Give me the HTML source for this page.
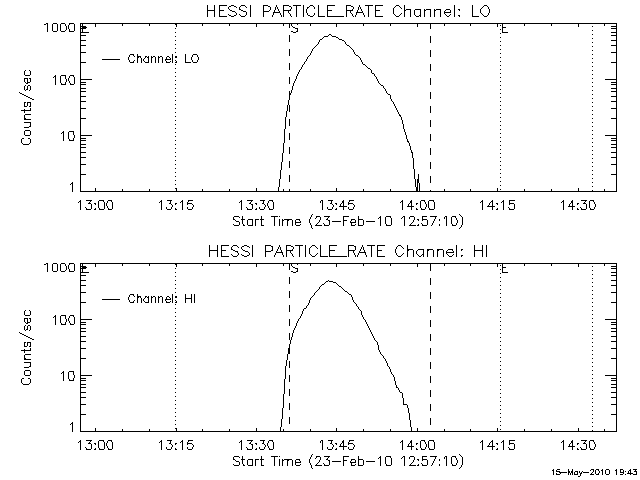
<!DOCTYPE html>
<html><head><meta charset="utf-8"><title>HESSI PARTICLE_RATE</title>
<style>
html,body{margin:0;padding:0;background:#fff;width:640px;height:480px;overflow:hidden}
svg{display:block}
.sr{position:absolute;left:-9999px;top:0;font-family:"Liberation Sans",sans-serif;font-size:1px}
</style></head><body>
<svg width="640" height="480" viewBox="0 0 640 480" shape-rendering="crispEdges">
<rect width="640" height="480" fill="#fff"/>
<g fill="#000">
<path id="frame0" d="M80 23h537v1h-537zM80 24h1v2h-1zM82 24h1v2h-1zM122 24h1v2h-1zM149 24h1v2h-1zM202 24h1v2h-1zM229 24h1v2h-1zM283 24h1v2h-1zM310 24h1v2h-1zM363 24h1v2h-1zM390 24h1v2h-1zM444 24h1v2h-1zM470 24h1v2h-1zM524 24h1v2h-1zM551 24h1v2h-1zM604 24h1v2h-1zM616 24h1v2h-1zM80 26h6v1h-6zM95 24h1v3h-1zM176 24h1v3h-1zM256 24h1v3h-1zM336 24h1v3h-1zM417 24h1v3h-1zM497 24h1v3h-1zM578 24h1v3h-1zM611 26h6v1h-6zM80 27h1v1h-1zM82 27h5v1h-5zM616 27h1v1h-1zM80 28h6v1h-6zM611 28h6v1h-6zM80 29h1v3h-1zM82 29h1v3h-1zM616 29h1v3h-1zM80 32h9v1h-9zM611 32h6v1h-6zM80 33h1v2h-1zM616 33h1v2h-1zM80 35h6v1h-6zM611 35h6v1h-6zM80 36h1v4h-1zM616 36h1v4h-1zM80 40h6v1h-6zM611 40h6v1h-6zM80 41h1v4h-1zM616 41h1v4h-1zM80 45h6v1h-6zM611 45h6v1h-6zM80 46h1v6h-1zM616 46h1v6h-1zM80 52h6v1h-6zM611 52h6v1h-6zM80 53h1v9h-1zM616 53h1v9h-1zM80 62h6v1h-6zM611 62h6v1h-6zM80 63h1v16h-1zM616 63h1v16h-1zM80 79h12v1h-12zM605 79h12v1h-12zM80 80h1v2h-1zM616 80h1v2h-1zM80 82h6v1h-6zM611 82h6v1h-6zM80 83h1v1h-1zM616 83h1v1h-1zM80 84h6v1h-6zM611 84h6v1h-6zM80 85h1v3h-1zM616 85h1v3h-1zM80 88h6v1h-6zM611 88h6v1h-6zM80 89h1v2h-1zM616 89h1v2h-1zM80 91h6v1h-6zM611 91h6v1h-6zM80 92h1v4h-1zM616 92h1v4h-1zM80 96h6v1h-6zM611 96h6v1h-6zM80 97h1v4h-1zM616 97h1v4h-1zM80 101h6v1h-6zM611 101h6v1h-6zM80 102h1v6h-1zM616 102h1v6h-1zM80 108h6v1h-6zM611 108h6v1h-6zM80 109h1v9h-1zM616 109h1v9h-1zM80 118h6v1h-6zM611 118h6v1h-6zM80 119h1v16h-1zM616 119h1v16h-1zM80 135h12v1h-12zM605 135h12v1h-12zM80 136h1v2h-1zM616 136h1v2h-1zM80 138h6v1h-6zM611 138h6v1h-6zM80 139h1v1h-1zM616 139h1v1h-1zM80 140h6v1h-6zM611 140h6v1h-6zM80 141h1v3h-1zM616 141h1v3h-1zM80 144h6v1h-6zM611 144h6v1h-6zM80 145h1v2h-1zM616 145h1v2h-1zM80 147h6v1h-6zM611 147h6v1h-6zM80 148h1v4h-1zM616 148h1v4h-1zM80 152h6v1h-6zM611 152h6v1h-6zM80 153h1v4h-1zM616 153h1v4h-1zM80 157h6v1h-6zM611 157h6v1h-6zM80 158h1v6h-1zM616 158h1v6h-1zM80 164h6v1h-6zM611 164h6v1h-6zM80 165h1v9h-1zM616 165h1v9h-1zM80 174h6v1h-6zM611 174h6v1h-6zM80 175h1v16h-1zM95 188h1v3h-1zM122 189h1v2h-1zM149 189h1v2h-1zM176 188h1v3h-1zM202 189h1v2h-1zM229 189h1v2h-1zM256 188h1v3h-1zM283 189h1v2h-1zM310 189h1v2h-1zM336 188h1v3h-1zM363 189h1v2h-1zM390 189h1v2h-1zM417 188h1v3h-1zM444 189h1v2h-1zM470 189h1v2h-1zM497 188h1v3h-1zM524 189h1v2h-1zM551 189h1v2h-1zM578 188h1v3h-1zM604 189h1v2h-1zM616 175h1v16h-1zM80 191h537v1h-537z"/>
<path id="vlines0" d="M175 24h1v1h-1zM500 25h1v1h-1zM592 26h1v1h-1zM289 23h1v5h-1zM175 28h1v1h-1zM430 23h1v6h-1zM500 29h1v1h-1zM592 30h1v1h-1zM175 32h1v1h-1zM500 33h1v1h-1zM592 34h1v1h-1zM175 36h1v1h-1zM500 37h1v1h-1zM592 38h1v1h-1zM175 40h1v1h-1zM289 35h1v7h-1zM500 41h1v1h-1zM430 36h1v7h-1zM592 42h1v1h-1zM175 44h1v1h-1zM500 45h1v1h-1zM592 46h1v1h-1zM175 48h1v1h-1zM500 49h1v1h-1zM592 50h1v1h-1zM175 52h1v1h-1zM500 53h1v1h-1zM592 54h1v1h-1zM289 49h1v7h-1zM175 56h1v1h-1zM430 50h1v7h-1zM500 57h1v1h-1zM592 58h1v1h-1zM175 60h1v1h-1zM500 61h1v1h-1zM592 62h1v1h-1zM175 64h1v1h-1zM500 65h1v1h-1zM592 66h1v1h-1zM175 68h1v1h-1zM289 63h1v7h-1zM500 69h1v1h-1zM430 64h1v7h-1zM592 70h1v1h-1zM175 72h1v1h-1zM500 73h1v1h-1zM592 74h1v1h-1zM175 76h1v1h-1zM500 77h1v1h-1zM592 78h1v1h-1zM175 80h1v1h-1zM500 81h1v1h-1zM592 82h1v1h-1zM289 77h1v7h-1zM175 84h1v1h-1zM430 78h1v7h-1zM500 85h1v1h-1zM592 86h1v1h-1zM175 88h1v1h-1zM500 89h1v1h-1zM592 90h1v1h-1zM175 92h1v1h-1zM500 93h1v1h-1zM592 94h1v1h-1zM175 96h1v1h-1zM289 91h1v7h-1zM500 97h1v1h-1zM430 92h1v7h-1zM592 98h1v1h-1zM175 100h1v1h-1zM500 101h1v1h-1zM592 102h1v1h-1zM175 104h1v1h-1zM500 105h1v1h-1zM592 106h1v1h-1zM175 108h1v1h-1zM500 109h1v1h-1zM592 110h1v1h-1zM289 105h1v7h-1zM175 112h1v1h-1zM430 106h1v7h-1zM500 113h1v1h-1zM592 114h1v1h-1zM175 116h1v1h-1zM500 117h1v1h-1zM592 118h1v1h-1zM175 120h1v1h-1zM500 121h1v1h-1zM592 122h1v1h-1zM175 124h1v1h-1zM289 119h1v7h-1zM500 125h1v1h-1zM430 120h1v7h-1zM592 126h1v1h-1zM175 128h1v1h-1zM500 129h1v1h-1zM592 130h1v1h-1zM175 132h1v1h-1zM500 133h1v1h-1zM592 134h1v1h-1zM175 136h1v1h-1zM500 137h1v1h-1zM592 138h1v1h-1zM289 133h1v7h-1zM175 140h1v1h-1zM430 134h1v7h-1zM500 141h1v1h-1zM592 142h1v1h-1zM175 144h1v1h-1zM500 145h1v1h-1zM592 146h1v1h-1zM175 148h1v1h-1zM500 149h1v1h-1zM592 150h1v1h-1zM175 152h1v1h-1zM289 147h1v7h-1zM500 153h1v1h-1zM430 148h1v7h-1zM592 154h1v1h-1zM175 156h1v1h-1zM500 157h1v1h-1zM592 158h1v1h-1zM175 160h1v1h-1zM500 161h1v1h-1zM592 162h1v1h-1zM175 164h1v1h-1zM500 165h1v1h-1zM592 166h1v1h-1zM289 161h1v7h-1zM175 168h1v1h-1zM430 162h1v7h-1zM500 169h1v1h-1zM592 170h1v1h-1zM175 172h1v1h-1zM500 173h1v1h-1zM592 174h1v1h-1zM175 176h1v1h-1zM500 177h1v1h-1zM592 178h1v1h-1zM175 180h1v1h-1zM289 175h1v7h-1zM500 181h1v1h-1zM430 176h1v7h-1zM592 182h1v1h-1zM175 184h1v1h-1zM500 185h1v1h-1zM592 186h1v1h-1zM175 188h1v1h-1zM500 189h1v1h-1zM592 190h1v1h-1zM289 189h1v3h-1zM430 190h1v2h-1z"/>
<path id="se0" aria-label="S E" d="M292 23h5v1h-5zM502 23h6v1h-6zM297 24h1v1h-1zM291 24h1v2h-1zM292 26h1v1h-1zM502 24h1v3h-1zM293 27h2v1h-2zM502 27h4v1h-4zM295 28h3v1h-3zM297 29h1v2h-1zM291 31h2v1h-2zM296 31h2v1h-2zM502 28h1v4h-1zM293 32h3v1h-3zM502 32h6v1h-6z"/>
<path id="curve0" d="M329 34h2v1h-2zM328 35h1v1h-1zM331 35h1v1h-1zM324 36h4v1h-4zM332 36h4v1h-4zM323 37h1v1h-1zM336 37h2v1h-2zM322 38h1v1h-1zM338 38h1v1h-1zM320 39h2v1h-2zM339 39h3v1h-3zM342 40h2v1h-2zM319 40h1v2h-1zM344 41h1v1h-1zM318 42h1v2h-1zM345 42h1v2h-1zM317 44h1v1h-1zM346 44h1v1h-1zM316 45h1v1h-1zM347 45h2v1h-2zM315 46h1v1h-1zM349 46h1v1h-1zM314 47h1v1h-1zM350 47h1v1h-1zM313 48h1v1h-1zM351 48h1v1h-1zM352 49h1v1h-1zM312 49h1v2h-1zM353 50h1v2h-1zM311 51h1v2h-1zM354 52h1v2h-1zM310 53h1v2h-1zM355 54h1v1h-1zM309 55h1v1h-1zM356 55h2v1h-2zM308 56h1v1h-1zM358 56h1v1h-1zM359 57h1v1h-1zM307 57h1v2h-1zM360 58h1v2h-1zM306 59h1v2h-1zM305 61h1v1h-1zM361 60h1v2h-1zM304 62h1v2h-1zM362 62h1v2h-1zM303 64h1v1h-1zM363 64h2v1h-2zM365 65h1v1h-1zM302 65h1v2h-1zM366 66h1v1h-1zM367 67h1v1h-1zM301 67h1v2h-1zM368 68h2v1h-2zM300 69h1v1h-1zM370 69h1v1h-1zM299 70h1v2h-1zM371 70h1v3h-1zM298 72h1v2h-1zM372 73h2v1h-2zM297 74h1v2h-1zM374 74h1v2h-1zM375 76h1v1h-1zM296 76h1v3h-1zM376 77h1v2h-1zM295 79h1v2h-1zM377 79h1v2h-1zM294 81h1v2h-1zM378 81h1v2h-1zM379 83h1v1h-1zM380 84h1v1h-1zM293 83h1v3h-1zM381 85h2v1h-2zM383 86h1v2h-1zM384 88h1v1h-1zM292 86h1v4h-1zM385 89h1v2h-1zM291 90h1v3h-1zM386 91h1v2h-1zM387 93h1v1h-1zM290 93h1v2h-1zM388 94h2v1h-2zM390 95h1v4h-1zM289 95h1v5h-1zM391 99h1v2h-1zM392 101h1v1h-1zM393 102h1v2h-1zM288 100h1v5h-1zM394 104h1v2h-1zM395 106h1v2h-1zM396 108h1v2h-1zM287 105h1v6h-1zM397 110h1v2h-1zM398 112h1v2h-1zM399 114h1v1h-1zM399 115h2v1h-2zM286 111h1v6h-1zM400 116h1v1h-1zM401 117h1v3h-1zM402 120h1v4h-1zM285 117h1v12h-1zM403 124h1v5h-1zM404 129h1v3h-1zM405 132h1v3h-1zM406 135h1v4h-1zM407 139h1v2h-1zM407 141h2v1h-2zM284 129h1v14h-1zM408 142h1v1h-1zM409 143h1v3h-1zM410 146h1v4h-1zM411 150h1v2h-1zM283 143h1v10h-1zM411 152h2v1h-2zM412 153h1v5h-1zM282 153h1v9h-1zM413 158h1v11h-1zM281 162h1v8h-1zM280 170h1v9h-1zM414 169h1v10h-1zM418 174h1v5h-1zM417 179h2v4h-2zM279 179h1v8h-1zM415 179h1v8h-1zM417 183h1v4h-1zM278 187h1v5h-1zM416 187h2v5h-2zM419 183h1v9h-1z"/>
<path id="legend0" aria-label="Channel: LO" d="M130 54h4v1h-4zM193 54h4v1h-4zM133 55h1v1h-1zM137 54h1v2h-1zM129 55h1v2h-1zM134 56h1v1h-1zM137 56h4v1h-4zM145 56h2v1h-2zM148 56h1v1h-1zM151 56h1v1h-1zM153 56h2v1h-2zM158 56h1v1h-1zM160 56h2v1h-2zM167 56h2v1h-2zM176 56h1v1h-1zM192 55h1v2h-1zM197 55h1v2h-1zM137 57h2v1h-2zM140 57h1v1h-1zM145 57h1v1h-1zM147 57h2v1h-2zM151 57h2v1h-2zM158 57h2v1h-2zM169 57h1v1h-1zM175 57h2v1h-2zM144 58h1v1h-1zM166 57h1v2h-1zM170 58h1v1h-1zM102 59h18v1h-18zM128 57h1v3h-1zM165 59h6v1h-6zM191 57h1v3h-1zM198 57h1v3h-1zM134 60h1v1h-1zM143 59h1v2h-1zM165 60h1v1h-1zM129 60h1v2h-1zM133 61h1v1h-1zM144 61h1v1h-1zM148 58h1v4h-1zM166 61h1v1h-1zM170 61h1v1h-1zM176 61h1v1h-1zM185 54h1v8h-1zM192 60h1v2h-1zM197 60h1v2h-1zM130 62h4v1h-4zM137 58h1v5h-1zM141 58h1v5h-1zM145 62h4v1h-4zM151 58h1v5h-1zM155 57h1v6h-1zM158 58h1v5h-1zM162 57h1v6h-1zM166 62h4v1h-4zM172 54h1v9h-1zM175 62h2v1h-2zM185 62h6v1h-6zM193 62h4v1h-4z"/>
<path id="title0" aria-label="HESSI PARTICLE_RATE Channel: LO" d="M219 5h8v1h-8zM231 5h3v1h-3zM241 5h4v1h-4zM263 5h5v1h-5zM283 5h6v1h-6zM293 5h8v1h-8zM310 5h3v1h-3zM327 5h8v1h-8zM346 5h5v1h-5zM365 5h8v1h-8zM375 5h8v1h-8zM396 5h3v1h-3zM484 5h3v1h-3zM229 6h2v1h-2zM234 6h2v1h-2zM240 6h1v1h-1zM245 6h1v1h-1zM268 6h2v1h-2zM276 5h1v2h-1zM289 6h2v1h-2zM309 6h1v1h-1zM313 6h1v1h-1zM351 6h2v1h-2zM359 5h1v2h-1zM395 6h1v1h-1zM399 6h1v1h-1zM483 6h1v1h-1zM487 6h1v1h-1zM236 7h1v1h-1zM246 7h1v1h-1zM307 7h2v1h-2zM394 7h1v1h-1zM400 7h1v1h-1zM482 7h1v1h-1zM228 7h1v2h-1zM239 7h1v2h-1zM277 7h1v2h-1zM291 7h1v2h-1zM307 8h1v1h-1zM314 7h1v2h-1zM353 7h1v2h-1zM360 7h1v2h-1zM401 8h1v1h-1zM481 8h1v1h-1zM488 7h1v2h-1zM207 5h1v5h-1zM214 5h1v5h-1zM219 6h1v4h-1zM229 9h1v1h-1zM239 9h2v1h-2zM270 7h1v3h-1zM275 7h1v3h-1zM283 6h1v4h-1zM290 9h1v1h-1zM327 6h1v4h-1zM346 6h1v4h-1zM352 9h1v1h-1zM358 7h1v3h-1zM375 6h1v4h-1zM404 5h1v5h-1zM406 9h5v1h-5zM415 9h6v1h-6zM424 9h1v1h-1zM426 9h5v1h-5zM434 9h1v1h-1zM436 9h5v1h-5zM446 9h4v1h-4zM458 9h2v1h-2zM207 10h8v1h-8zM219 10h5v1h-5zM230 10h2v1h-2zM241 10h2v1h-2zM263 6h1v5h-1zM269 10h1v1h-1zM278 9h1v2h-1zM283 10h8v1h-8zM327 10h5v1h-5zM346 10h7v1h-7zM361 9h1v2h-1zM375 10h5v1h-5zM404 10h2v1h-2zM424 10h2v1h-2zM434 10h2v1h-2zM445 10h1v1h-1zM459 10h1v1h-1zM232 11h3v1h-3zM243 11h3v1h-3zM263 11h6v1h-6zM274 10h1v2h-1zM279 11h1v1h-1zM357 10h1v2h-1zM362 11h1v1h-1zM444 11h1v1h-1zM450 10h1v2h-1zM235 12h1v1h-1zM273 12h7v1h-7zM288 11h1v2h-1zM306 9h1v4h-1zM350 11h1v2h-1zM356 12h7v1h-7zM444 12h7v1h-7zM480 9h1v4h-1zM489 9h1v4h-1zM289 13h1v1h-1zM351 13h1v1h-1zM393 8h1v6h-1zM401 13h1v1h-1zM444 13h1v1h-1zM481 13h1v1h-1zM228 14h1v1h-1zM236 13h1v2h-1zM239 14h1v1h-1zM246 12h1v3h-1zM273 13h1v2h-1zM280 13h1v2h-1zM307 13h1v2h-1zM314 13h1v2h-1zM356 13h1v2h-1zM363 13h1v2h-1zM394 14h1v1h-1zM400 14h1v1h-1zM414 10h1v5h-1zM420 10h1v5h-1zM445 14h1v1h-1zM450 14h1v1h-1zM482 14h1v1h-1zM488 13h1v2h-1zM219 11h1v5h-1zM229 15h2v1h-2zM234 15h2v1h-2zM240 15h1v1h-1zM245 15h1v1h-1zM290 14h1v2h-1zM308 15h2v1h-2zM313 15h1v1h-1zM318 5h1v11h-1zM327 11h1v5h-1zM352 14h1v2h-1zM375 11h1v5h-1zM395 15h1v1h-1zM399 15h1v1h-1zM415 15h1v1h-1zM419 15h2v1h-2zM446 15h1v1h-1zM449 15h1v1h-1zM458 15h2v1h-2zM472 5h1v11h-1zM483 15h1v1h-1zM487 15h1v1h-1zM207 11h1v6h-1zM214 11h1v6h-1zM219 16h8v1h-8zM231 16h3v1h-3zM241 16h4v1h-4zM250 5h1v12h-1zM263 12h1v5h-1zM272 15h1v2h-1zM281 15h1v2h-1zM283 11h1v6h-1zM291 16h1v1h-1zM296 6h1v11h-1zM303 5h1v12h-1zM310 16h3v1h-3zM318 16h7v1h-7zM327 16h17v1h-17zM346 11h1v6h-1zM353 16h1v1h-1zM355 15h1v2h-1zM364 15h1v2h-1zM368 6h1v11h-1zM375 16h8v1h-8zM396 16h3v1h-3zM404 11h1v6h-1zM410 10h1v7h-1zM416 16h3v1h-3zM420 16h1v1h-1zM424 11h1v6h-1zM430 10h1v7h-1zM434 11h1v6h-1zM440 10h1v7h-1zM447 16h2v1h-2zM454 5h1v12h-1zM459 16h1v1h-1zM472 16h7v1h-7zM484 16h3v1h-3z"/>
<path id="ylabels0" aria-label="1000 100 10 1" d="M46 23h2v1h-2zM53 23h4v1h-4zM61 23h4v1h-4zM69 23h5v1h-5zM44 24h2v1h-2zM69 24h1v1h-1zM65 24h1v2h-1zM68 25h1v4h-1zM66 26h1v4h-1zM52 24h1v7h-1zM57 24h1v7h-1zM60 24h1v7h-1zM65 30h1v1h-1zM69 29h1v2h-1zM74 24h1v7h-1zM47 24h1v8h-1zM53 31h4v1h-4zM61 31h4v1h-4zM69 31h5v1h-5zM55 75h1v1h-1zM61 75h5v1h-5zM70 75h4v1h-4zM54 76h2v1h-2zM73 76h1v1h-1zM53 77h1v1h-1zM69 76h1v2h-1zM65 76h1v3h-1zM68 78h1v3h-1zM66 79h1v3h-1zM60 76h1v7h-1zM69 81h1v2h-1zM61 83h1v1h-1zM65 82h1v2h-1zM70 83h1v1h-1zM74 77h1v7h-1zM55 77h1v8h-1zM61 84h5v1h-5zM70 84h4v1h-4zM63 131h1v1h-1zM69 131h5v1h-5zM62 132h2v1h-2zM61 133h1v1h-1zM73 132h1v3h-1zM74 135h1v3h-1zM68 132h1v7h-1zM69 139h1v1h-1zM73 138h1v2h-1zM63 133h1v8h-1zM69 140h5v1h-5zM72 182h1v1h-1zM71 183h2v1h-2zM70 184h1v1h-1zM72 184h1v8h-1z"/>
<path id="ytitle0" aria-label="Counts/sec" d="M25 70h1v1h-1zM29 70h1v1h-1zM24 71h1v4h-1zM30 71h1v4h-1zM25 75h5v1h-5zM24 78h4v1h-4zM29 78h2v1h-2zM24 79h1v3h-1zM27 79h1v3h-1zM30 79h1v3h-1zM25 82h1v1h-1zM27 82h3v1h-3zM26 83h2v1h-2zM25 85h1v1h-1zM28 85h2v1h-2zM27 86h1v3h-1zM24 86h1v4h-1zM26 89h2v1h-2zM30 86h1v4h-1zM25 90h1v1h-1zM29 90h1v1h-1zM19 92h1v1h-1zM20 93h2v1h-2zM22 94h2v1h-2zM24 95h2v1h-2zM26 96h2v1h-2zM28 97h2v1h-2zM30 98h2v1h-2zM32 99h2v1h-2zM24 102h2v1h-2zM27 102h4v1h-4zM24 103h1v3h-1zM27 103h1v3h-1zM30 103h1v3h-1zM24 106h3v1h-3zM29 106h2v1h-2zM24 109h1v1h-1zM30 108h1v2h-1zM21 110h10v1h-10zM24 111h1v2h-1zM25 114h6v1h-6zM24 115h1v3h-1zM24 118h2v1h-2zM24 119h7v1h-7zM24 122h7v1h-7zM30 123h1v3h-1zM29 126h2v1h-2zM24 127h5v1h-5zM25 130h5v1h-5zM24 131h1v4h-1zM30 131h1v4h-1zM25 135h5v1h-5zM22 138h2v1h-2zM28 138h2v1h-2zM21 139h1v4h-1zM30 139h1v4h-1zM22 143h1v1h-1zM29 143h1v1h-1zM23 144h6v1h-6z"/>
<path id="xlabels0" aria-label="13:00 13:15 13:30 13:45 14:00 14:15 14:30" d="M80 200h1v1h-1zM86 200h6v1h-6zM99 200h5v1h-5zM108 200h4v1h-4zM161 200h1v1h-1zM167 200h5v1h-5zM182 200h1v1h-1zM188 200h5v1h-5zM241 200h1v1h-1zM247 200h6v1h-6zM260 200h5v1h-5zM269 200h4v1h-4zM321 200h2v1h-2zM328 200h5v1h-5zM343 200h1v1h-1zM349 200h5v1h-5zM402 200h1v1h-1zM411 200h1v1h-1zM421 200h4v1h-4zM429 200h5v1h-5zM482 200h1v1h-1zM492 200h1v1h-1zM503 200h1v1h-1zM509 200h6v1h-6zM563 200h1v1h-1zM572 200h1v1h-1zM581 200h6v1h-6zM590 200h4v1h-4zM79 201h2v1h-2zM90 201h1v1h-1zM103 201h1v1h-1zM111 201h1v1h-1zM160 201h2v1h-2zM181 201h2v1h-2zM188 201h1v1h-1zM240 201h2v1h-2zM251 201h1v1h-1zM272 201h1v1h-1zM349 201h1v1h-1zM401 201h2v1h-2zM424 201h1v1h-1zM433 201h1v1h-1zM481 201h2v1h-2zM491 201h2v1h-2zM502 201h2v1h-2zM562 201h2v1h-2zM585 201h1v1h-1zM593 201h1v1h-1zM78 202h1v1h-1zM89 202h1v1h-1zM107 201h1v2h-1zM159 202h1v1h-1zM170 201h1v2h-1zM180 202h1v1h-1zM187 202h1v1h-1zM239 202h1v1h-1zM250 202h1v1h-1zM263 201h1v2h-1zM268 201h1v2h-1zM320 201h1v2h-1zM331 201h1v2h-1zM342 201h2v2h-2zM348 202h1v1h-1zM400 202h1v1h-1zM410 201h2v2h-2zM480 202h1v1h-1zM490 202h1v1h-1zM501 202h1v1h-1zM509 201h1v2h-1zM561 202h1v1h-1zM571 201h2v2h-2zM584 202h1v1h-1zM88 203h3v1h-3zM94 203h2v1h-2zM169 203h2v1h-2zM175 203h2v1h-2zM187 203h5v1h-5zM249 203h2v1h-2zM255 203h2v1h-2zM262 203h2v1h-2zM330 203h2v1h-2zM335 203h2v1h-2zM341 203h1v1h-1zM348 203h5v1h-5zM409 203h1v1h-1zM416 203h2v1h-2zM425 202h1v2h-1zM496 203h2v1h-2zM509 203h5v1h-5zM570 203h1v1h-1zM577 203h2v1h-2zM583 203h3v1h-3zM594 202h1v2h-1zM95 204h1v1h-1zM171 204h1v1h-1zM175 204h1v1h-1zM187 204h1v1h-1zM192 204h1v1h-1zM251 204h2v1h-2zM256 204h1v1h-1zM264 204h1v1h-1zM332 204h1v1h-1zM336 204h1v1h-1zM348 204h1v1h-1zM353 204h1v1h-1zM416 204h1v1h-1zM489 203h1v2h-1zM497 204h1v1h-1zM509 204h1v1h-1zM577 204h1v1h-1zM106 203h1v3h-1zM267 203h1v3h-1zM340 204h1v2h-1zM343 203h1v3h-1zM408 204h1v2h-1zM411 203h1v3h-1zM488 205h1v1h-1zM492 202h1v4h-1zM569 204h1v2h-1zM572 203h1v3h-1zM172 205h1v2h-1zM193 205h1v2h-1zM265 205h1v2h-1zM333 205h1v2h-1zM339 206h8v1h-8zM354 205h1v2h-1zM407 206h7v1h-7zM426 204h1v3h-1zM487 206h8v1h-8zM568 206h7v1h-7zM595 204h1v3h-1zM85 207h1v1h-1zM98 201h1v7h-1zM107 206h1v2h-1zM246 207h1v1h-1zM268 206h1v2h-1zM420 201h1v7h-1zM428 201h1v7h-1zM508 207h1v1h-1zM580 207h1v1h-1zM589 201h1v7h-1zM86 208h1v1h-1zM91 204h1v5h-1zM95 208h1v1h-1zM99 208h1v1h-1zM104 202h1v7h-1zM108 208h1v1h-1zM112 202h1v7h-1zM166 207h1v2h-1zM171 207h1v2h-1zM175 208h1v1h-1zM187 207h1v2h-1zM192 207h1v2h-1zM247 208h1v1h-1zM252 205h1v4h-1zM256 208h1v1h-1zM259 207h1v2h-1zM264 207h1v2h-1zM269 208h1v1h-1zM273 202h1v7h-1zM327 207h1v2h-1zM332 207h1v2h-1zM336 208h1v1h-1zM348 207h1v2h-1zM353 207h1v2h-1zM416 208h1v1h-1zM421 208h1v1h-1zM425 207h1v2h-1zM429 208h1v1h-1zM434 202h1v7h-1zM497 208h1v1h-1zM509 208h1v1h-1zM514 204h1v5h-1zM577 208h1v1h-1zM581 208h1v1h-1zM586 204h1v5h-1zM590 208h1v1h-1zM594 207h1v2h-1zM80 202h1v8h-1zM86 209h5v1h-5zM94 209h2v1h-2zM99 209h5v1h-5zM108 209h4v1h-4zM161 202h1v8h-1zM167 209h4v1h-4zM175 209h2v1h-2zM182 202h1v8h-1zM188 209h4v1h-4zM241 202h1v8h-1zM247 209h5v1h-5zM255 209h2v1h-2zM260 209h4v1h-4zM269 209h4v1h-4zM322 201h1v9h-1zM328 209h4v1h-4zM335 209h2v1h-2zM343 207h1v3h-1zM349 209h4v1h-4zM402 202h1v8h-1zM411 207h1v3h-1zM416 209h2v1h-2zM421 209h4v1h-4zM429 209h5v1h-5zM482 202h1v8h-1zM492 207h1v3h-1zM496 209h2v1h-2zM503 202h1v8h-1zM509 209h5v1h-5zM563 202h1v8h-1zM572 207h1v3h-1zM577 209h2v1h-2zM581 209h5v1h-5zM590 209h4v1h-4z"/>
<path id="xtitle0" aria-label="Start Time (23-Feb-10 12:57:10)" d="M312 214h1v1h-1zM459 214h1v1h-1zM460 215h1v1h-1zM234 216h5v1h-5zM271 216h7v1h-7zM279 216h1v1h-1zM311 215h1v2h-1zM316 216h4v1h-4zM324 216h6v1h-6zM343 216h6v1h-6zM380 216h1v1h-1zM386 216h5v1h-5zM403 216h2v1h-2zM410 216h4v1h-4zM422 216h5v1h-5zM430 216h7v1h-7zM445 216h2v1h-2zM452 216h4v1h-4zM461 216h1v1h-1zM239 217h1v1h-1zM316 217h1v1h-1zM328 217h1v1h-1zM379 217h2v1h-2zM390 217h1v1h-1zM402 217h1v1h-1zM455 217h1v1h-1zM233 217h1v2h-1zM242 216h1v3h-1zM261 216h1v3h-1zM310 217h1v2h-1zM315 218h1v1h-1zM327 218h1v1h-1zM358 216h1v3h-1zM378 218h1v1h-1zM401 218h1v1h-1zM409 217h1v2h-1zM422 217h1v2h-1zM435 217h1v2h-1zM444 217h1v2h-1zM233 219h2v1h-2zM241 219h4v1h-4zM248 219h5v1h-5zM255 219h4v1h-4zM260 219h4v1h-4zM282 219h1v1h-1zM284 219h8v1h-8zM296 219h4v1h-4zM320 217h1v3h-1zM326 219h2v1h-2zM343 217h1v3h-1zM351 219h4v1h-4zM358 219h5v1h-5zM414 217h1v3h-1zM417 219h2v1h-2zM422 219h5v1h-5zM456 218h1v2h-1zM235 220h1v1h-1zM282 220h2v1h-2zM287 220h2v1h-2zM299 220h1v1h-1zM328 220h2v1h-2zM343 220h4v1h-4zM351 220h1v1h-1zM418 220h1v1h-1zM422 220h1v1h-1zM434 219h1v2h-1zM439 219h1v2h-1zM236 221h3v1h-3zM295 220h1v2h-1zM300 221h1v1h-1zM319 220h1v2h-1zM332 221h9v1h-9zM350 221h1v1h-1zM355 220h1v2h-1zM366 221h9v1h-9zM413 220h1v2h-1zM295 222h6v1h-6zM309 219h1v4h-1zM318 222h1v1h-1zM350 222h6v1h-6zM412 222h1v1h-1zM433 221h1v2h-1zM457 220h1v3h-1zM242 220h1v4h-1zM317 223h1v1h-1zM323 223h1v1h-1zM385 217h1v7h-1zM411 223h1v1h-1zM421 223h1v1h-1zM451 217h1v7h-1zM233 224h1v1h-1zM239 222h1v3h-1zM243 224h1v1h-1zM247 220h1v5h-1zM252 220h1v5h-1zM261 220h1v5h-1zM295 223h1v2h-1zM300 224h1v1h-1zM310 223h1v2h-1zM316 224h1v1h-1zM324 224h1v1h-1zM329 221h1v4h-1zM351 223h1v2h-1zM355 224h1v1h-1zM358 220h1v5h-1zM363 220h1v5h-1zM386 224h1v1h-1zM391 218h1v7h-1zM410 224h1v1h-1zM418 224h1v1h-1zM422 224h1v1h-1zM427 220h1v5h-1zM432 223h1v2h-1zM452 224h1v1h-1zM456 223h1v2h-1zM462 217h1v8h-1zM234 225h5v1h-5zM243 225h2v1h-2zM248 225h5v1h-5zM255 220h1v6h-1zM261 225h3v1h-3zM274 217h1v9h-1zM279 219h1v7h-1zM282 221h1v5h-1zM287 221h1v5h-1zM292 220h1v6h-1zM296 225h4v1h-4zM315 225h7v1h-7zM324 225h5v1h-5zM343 221h1v5h-1zM351 225h4v1h-4zM358 225h5v1h-5zM380 218h1v8h-1zM386 225h5v1h-5zM404 217h1v9h-1zM409 225h7v1h-7zM417 225h2v1h-2zM422 225h5v1h-5zM431 225h1v1h-1zM439 224h1v2h-1zM446 217h1v9h-1zM452 225h4v1h-4zM461 225h1v2h-1zM311 225h1v3h-1zM460 227h1v1h-1zM312 228h1v1h-1zM459 228h1v1h-1z"/>
<path id="frame1" d="M80 263h537v1h-537zM80 264h1v2h-1zM82 264h1v2h-1zM122 264h1v2h-1zM149 264h1v2h-1zM202 264h1v2h-1zM229 264h1v2h-1zM283 264h1v2h-1zM310 264h1v2h-1zM363 264h1v2h-1zM390 264h1v2h-1zM444 264h1v2h-1zM470 264h1v2h-1zM524 264h1v2h-1zM551 264h1v2h-1zM604 264h1v2h-1zM616 264h1v2h-1zM80 266h6v1h-6zM95 264h1v3h-1zM176 264h1v3h-1zM256 264h1v3h-1zM336 264h1v3h-1zM417 264h1v3h-1zM497 264h1v3h-1zM578 264h1v3h-1zM611 266h6v1h-6zM80 267h1v1h-1zM82 267h5v1h-5zM616 267h1v1h-1zM80 268h6v1h-6zM611 268h6v1h-6zM80 269h1v3h-1zM82 269h1v3h-1zM616 269h1v3h-1zM80 272h9v1h-9zM611 272h6v1h-6zM80 273h1v2h-1zM616 273h1v2h-1zM80 275h6v1h-6zM611 275h6v1h-6zM80 276h1v4h-1zM616 276h1v4h-1zM80 280h6v1h-6zM611 280h6v1h-6zM80 281h1v4h-1zM616 281h1v4h-1zM80 285h6v1h-6zM611 285h6v1h-6zM80 286h1v6h-1zM616 286h1v6h-1zM80 292h6v1h-6zM611 292h6v1h-6zM80 293h1v9h-1zM616 293h1v9h-1zM80 302h6v1h-6zM611 302h6v1h-6zM80 303h1v16h-1zM616 303h1v16h-1zM80 319h12v1h-12zM605 319h12v1h-12zM80 320h1v2h-1zM616 320h1v2h-1zM80 322h6v1h-6zM611 322h6v1h-6zM80 323h1v1h-1zM616 323h1v1h-1zM80 324h6v1h-6zM611 324h6v1h-6zM80 325h1v3h-1zM616 325h1v3h-1zM80 328h6v1h-6zM611 328h6v1h-6zM80 329h1v2h-1zM616 329h1v2h-1zM80 331h6v1h-6zM611 331h6v1h-6zM80 332h1v4h-1zM616 332h1v4h-1zM80 336h6v1h-6zM611 336h6v1h-6zM80 337h1v4h-1zM616 337h1v4h-1zM80 341h6v1h-6zM611 341h6v1h-6zM80 342h1v6h-1zM616 342h1v6h-1zM80 348h6v1h-6zM611 348h6v1h-6zM80 349h1v9h-1zM616 349h1v9h-1zM80 358h6v1h-6zM611 358h6v1h-6zM80 359h1v16h-1zM616 359h1v16h-1zM80 375h12v1h-12zM605 375h12v1h-12zM80 376h1v2h-1zM616 376h1v2h-1zM80 378h6v1h-6zM611 378h6v1h-6zM80 379h1v1h-1zM616 379h1v1h-1zM80 380h6v1h-6zM611 380h6v1h-6zM80 381h1v3h-1zM616 381h1v3h-1zM80 384h6v1h-6zM611 384h6v1h-6zM80 385h1v2h-1zM616 385h1v2h-1zM80 387h6v1h-6zM611 387h6v1h-6zM80 388h1v4h-1zM616 388h1v4h-1zM80 392h6v1h-6zM611 392h6v1h-6zM80 393h1v4h-1zM616 393h1v4h-1zM80 397h6v1h-6zM611 397h6v1h-6zM80 398h1v6h-1zM616 398h1v6h-1zM80 404h6v1h-6zM611 404h6v1h-6zM80 405h1v9h-1zM616 405h1v9h-1zM80 414h6v1h-6zM611 414h6v1h-6zM80 415h1v16h-1zM95 428h1v3h-1zM122 429h1v2h-1zM149 429h1v2h-1zM176 428h1v3h-1zM202 429h1v2h-1zM229 429h1v2h-1zM256 428h1v3h-1zM283 429h1v2h-1zM310 429h1v2h-1zM336 428h1v3h-1zM363 429h1v2h-1zM390 429h1v2h-1zM417 428h1v3h-1zM444 429h1v2h-1zM470 429h1v2h-1zM497 428h1v3h-1zM524 429h1v2h-1zM551 429h1v2h-1zM578 428h1v3h-1zM604 429h1v2h-1zM616 415h1v16h-1zM80 431h537v1h-537z"/>
<path id="vlines1" d="M175 264h1v1h-1zM500 265h1v1h-1zM592 266h1v1h-1zM175 268h1v1h-1zM289 263h1v7h-1zM500 269h1v1h-1zM430 264h1v7h-1zM592 270h1v1h-1zM175 272h1v1h-1zM500 273h1v1h-1zM592 274h1v1h-1zM175 276h1v1h-1zM500 277h1v1h-1zM592 278h1v1h-1zM175 280h1v1h-1zM500 281h1v1h-1zM592 282h1v1h-1zM289 277h1v7h-1zM175 284h1v1h-1zM430 278h1v7h-1zM500 285h1v1h-1zM592 286h1v1h-1zM175 288h1v1h-1zM500 289h1v1h-1zM592 290h1v1h-1zM175 292h1v1h-1zM500 293h1v1h-1zM592 294h1v1h-1zM175 296h1v1h-1zM289 291h1v7h-1zM500 297h1v1h-1zM430 292h1v7h-1zM592 298h1v1h-1zM175 300h1v1h-1zM500 301h1v1h-1zM592 302h1v1h-1zM175 304h1v1h-1zM500 305h1v1h-1zM592 306h1v1h-1zM175 308h1v1h-1zM500 309h1v1h-1zM592 310h1v1h-1zM289 305h1v7h-1zM175 312h1v1h-1zM430 306h1v7h-1zM500 313h1v1h-1zM592 314h1v1h-1zM175 316h1v1h-1zM500 317h1v1h-1zM592 318h1v1h-1zM175 320h1v1h-1zM500 321h1v1h-1zM592 322h1v1h-1zM175 324h1v1h-1zM289 319h1v7h-1zM500 325h1v1h-1zM430 320h1v7h-1zM592 326h1v1h-1zM175 328h1v1h-1zM500 329h1v1h-1zM592 330h1v1h-1zM175 332h1v1h-1zM500 333h1v1h-1zM592 334h1v1h-1zM175 336h1v1h-1zM500 337h1v1h-1zM592 338h1v1h-1zM289 333h1v7h-1zM175 340h1v1h-1zM430 334h1v7h-1zM500 341h1v1h-1zM592 342h1v1h-1zM175 344h1v1h-1zM500 345h1v1h-1zM592 346h1v1h-1zM175 348h1v1h-1zM500 349h1v1h-1zM592 350h1v1h-1zM175 352h1v1h-1zM289 347h1v7h-1zM500 353h1v1h-1zM430 348h1v7h-1zM592 354h1v1h-1zM175 356h1v1h-1zM500 357h1v1h-1zM592 358h1v1h-1zM175 360h1v1h-1zM500 361h1v1h-1zM592 362h1v1h-1zM175 364h1v1h-1zM500 365h1v1h-1zM592 366h1v1h-1zM289 361h1v7h-1zM175 368h1v1h-1zM430 362h1v7h-1zM500 369h1v1h-1zM592 370h1v1h-1zM175 372h1v1h-1zM500 373h1v1h-1zM592 374h1v1h-1zM175 376h1v1h-1zM500 377h1v1h-1zM592 378h1v1h-1zM175 380h1v1h-1zM289 375h1v7h-1zM500 381h1v1h-1zM430 376h1v7h-1zM592 382h1v1h-1zM175 384h1v1h-1zM500 385h1v1h-1zM592 386h1v1h-1zM175 388h1v1h-1zM500 389h1v1h-1zM592 390h1v1h-1zM175 392h1v1h-1zM500 393h1v1h-1zM592 394h1v1h-1zM289 389h1v7h-1zM175 396h1v1h-1zM430 390h1v7h-1zM500 397h1v1h-1zM592 398h1v1h-1zM175 400h1v1h-1zM500 401h1v1h-1zM592 402h1v1h-1zM175 404h1v1h-1zM500 405h1v1h-1zM592 406h1v1h-1zM175 408h1v1h-1zM289 403h1v7h-1zM500 409h1v1h-1zM430 404h1v7h-1zM592 410h1v1h-1zM175 412h1v1h-1zM500 413h1v1h-1zM592 414h1v1h-1zM175 416h1v1h-1zM500 417h1v1h-1zM592 418h1v1h-1zM175 420h1v1h-1zM500 421h1v1h-1zM592 422h1v1h-1zM289 417h1v7h-1zM175 424h1v1h-1zM430 418h1v7h-1zM500 425h1v1h-1zM592 426h1v1h-1zM175 428h1v1h-1zM500 429h1v1h-1zM592 430h1v1h-1zM289 431h1v1h-1z"/>
<path id="se1" aria-label="S E" d="M292 263h5v1h-5zM502 263h6v1h-6zM297 264h1v1h-1zM291 264h1v2h-1zM292 266h1v1h-1zM502 264h1v3h-1zM293 267h2v1h-2zM502 267h4v1h-4zM295 268h3v1h-3zM297 269h1v2h-1zM291 271h2v1h-2zM296 271h2v1h-2zM502 268h1v4h-1zM293 272h3v1h-3zM502 272h6v1h-6z"/>
<path id="curve1" d="M328 280h1v1h-1zM326 281h2v1h-2zM329 281h4v1h-4zM325 282h1v1h-1zM333 282h3v1h-3zM324 283h1v1h-1zM336 283h1v1h-1zM322 284h2v1h-2zM337 284h1v1h-1zM321 285h1v1h-1zM338 285h1v1h-1zM320 286h1v1h-1zM339 286h2v1h-2zM341 287h1v1h-1zM319 287h1v2h-1zM342 288h1v1h-1zM318 289h1v1h-1zM343 289h1v1h-1zM317 290h1v1h-1zM344 290h1v1h-1zM316 291h1v1h-1zM345 291h2v1h-2zM315 292h1v1h-1zM347 292h1v1h-1zM348 293h1v1h-1zM314 293h1v2h-1zM349 294h2v1h-2zM313 295h1v1h-1zM312 296h1v1h-1zM351 295h1v2h-1zM311 297h1v1h-1zM310 298h1v2h-1zM352 297h1v3h-1zM353 300h1v2h-1zM309 300h1v3h-1zM354 302h1v1h-1zM355 303h1v1h-1zM308 303h1v2h-1zM307 305h1v1h-1zM356 304h1v2h-1zM357 306h1v1h-1zM306 306h1v2h-1zM304 308h2v1h-2zM358 307h1v2h-1zM359 309h1v1h-1zM303 309h1v2h-1zM360 310h1v1h-1zM302 311h1v3h-1zM361 311h1v4h-1zM301 314h1v2h-1zM362 315h1v2h-1zM300 316h1v2h-1zM299 318h1v1h-1zM363 317h1v2h-1zM364 319h1v1h-1zM298 319h1v2h-1zM365 320h1v2h-1zM297 321h1v2h-1zM366 322h1v2h-1zM296 323h1v3h-1zM367 324h1v2h-1zM295 326h1v2h-1zM368 326h1v2h-1zM294 328h1v2h-1zM369 328h1v2h-1zM370 330h1v2h-1zM293 330h1v3h-1zM371 332h1v2h-1zM372 334h1v2h-1zM292 333h1v4h-1zM373 336h1v2h-1zM291 337h1v3h-1zM374 338h1v2h-1zM375 340h1v1h-1zM376 341h1v1h-1zM290 340h1v4h-1zM377 342h1v3h-1zM289 344h1v4h-1zM288 348h2v1h-2zM378 345h1v5h-1zM379 350h1v2h-1zM288 349h1v5h-1zM380 352h1v2h-1zM381 354h1v1h-1zM382 355h1v1h-1zM383 356h1v2h-1zM384 358h1v1h-1zM287 354h1v6h-1zM385 359h1v2h-1zM386 361h1v2h-1zM286 360h1v6h-1zM387 363h1v3h-1zM388 366h1v1h-1zM389 367h1v2h-1zM390 369h1v3h-1zM391 372h1v2h-1zM392 374h1v1h-1zM393 375h1v2h-1zM285 366h1v13h-1zM394 377h1v4h-1zM395 381h1v4h-1zM396 385h1v2h-1zM396 387h2v1h-2zM398 388h1v2h-1zM399 390h1v2h-1zM400 392h2v1h-2zM284 379h1v15h-1zM402 393h1v5h-1zM403 398h1v6h-1zM403 404h4v1h-4zM283 394h1v14h-1zM407 405h1v3h-1zM408 408h1v5h-1zM282 408h1v11h-1zM409 413h1v7h-1zM281 419h1v8h-1zM410 420h1v7h-1zM280 427h1v5h-1zM411 427h1v5h-1z"/>
<path id="legend1" aria-label="Channel: HI" d="M130 294h4v1h-4zM133 295h1v1h-1zM137 294h1v2h-1zM129 295h1v2h-1zM134 296h1v1h-1zM137 296h4v1h-4zM145 296h2v1h-2zM148 296h1v1h-1zM151 296h1v1h-1zM153 296h2v1h-2zM158 296h1v1h-1zM160 296h2v1h-2zM167 296h2v1h-2zM176 296h1v1h-1zM137 297h2v1h-2zM140 297h1v1h-1zM145 297h1v1h-1zM147 297h2v1h-2zM151 297h2v1h-2zM158 297h2v1h-2zM169 297h1v1h-1zM175 297h2v1h-2zM185 294h1v4h-1zM191 294h1v4h-1zM144 298h1v1h-1zM166 297h1v2h-1zM170 298h1v1h-1zM185 298h7v1h-7zM102 299h18v1h-18zM128 297h1v3h-1zM165 299h6v1h-6zM134 300h1v1h-1zM143 299h1v2h-1zM165 300h1v1h-1zM129 300h1v2h-1zM133 301h1v1h-1zM144 301h1v1h-1zM148 298h1v4h-1zM166 301h1v1h-1zM170 301h1v1h-1zM176 301h1v1h-1zM130 302h4v1h-4zM137 298h1v5h-1zM141 298h1v5h-1zM145 302h4v1h-4zM151 298h1v5h-1zM155 297h1v6h-1zM158 298h1v5h-1zM162 297h1v6h-1zM166 302h4v1h-4zM172 294h1v9h-1zM175 302h2v1h-2zM185 299h1v4h-1zM191 299h1v4h-1zM194 294h1v9h-1z"/>
<path id="title1" aria-label="HESSI PARTICLE_RATE Channel: HI" d="M221 245h8v1h-8zM233 245h4v1h-4zM244 245h3v1h-3zM265 245h6v1h-6zM286 245h5v1h-5zM295 245h8v1h-8zM312 245h3v1h-3zM329 245h8v1h-8zM348 245h6v1h-6zM367 245h8v1h-8zM377 245h8v1h-8zM398 245h3v1h-3zM232 246h1v1h-1zM237 246h1v1h-1zM242 246h2v1h-2zM247 246h2v1h-2zM271 246h2v1h-2zM279 245h1v2h-1zM291 246h2v1h-2zM311 246h1v1h-1zM315 246h1v1h-1zM354 246h2v1h-2zM362 245h1v2h-1zM397 246h1v1h-1zM401 246h1v1h-1zM238 247h1v1h-1zM249 247h1v1h-1zM310 247h1v1h-1zM316 247h1v1h-1zM402 247h1v1h-1zM231 247h1v2h-1zM241 247h1v2h-1zM278 247h1v2h-1zM293 247h1v2h-1zM317 248h1v1h-1zM361 247h1v2h-1zM396 247h1v2h-1zM403 248h1v1h-1zM407 245h1v4h-1zM209 245h1v5h-1zM217 245h1v5h-1zM221 246h1v4h-1zM231 249h2v1h-2zM242 249h1v1h-1zM272 247h1v3h-1zM280 247h1v3h-1zM286 246h1v4h-1zM292 249h1v1h-1zM329 246h1v4h-1zM348 246h1v4h-1zM355 247h1v3h-1zM363 247h1v3h-1zM377 246h1v4h-1zM407 249h6v1h-6zM418 249h6v1h-6zM427 249h6v1h-6zM437 249h6v1h-6zM448 249h5v1h-5zM461 249h2v1h-2zM474 245h1v5h-1zM482 245h1v5h-1zM209 250h9v1h-9zM221 250h5v1h-5zM233 250h2v1h-2zM243 250h2v1h-2zM265 246h1v5h-1zM271 250h2v1h-2zM277 249h1v2h-1zM286 250h7v1h-7zM329 250h6v1h-6zM348 250h7v1h-7zM360 249h1v2h-1zM377 250h5v1h-5zM407 250h2v1h-2zM417 250h1v1h-1zM427 250h2v1h-2zM437 250h2v1h-2zM447 250h1v1h-1zM452 250h1v1h-1zM461 250h1v1h-1zM474 250h9v1h-9zM235 251h3v1h-3zM245 251h3v1h-3zM265 251h6v1h-6zM276 251h1v1h-1zM281 250h1v2h-1zM359 251h1v1h-1zM364 250h1v2h-1zM446 251h1v1h-1zM453 251h1v1h-1zM237 252h1v1h-1zM248 252h1v1h-1zM276 252h7v1h-7zM290 251h1v2h-1zM353 251h1v2h-1zM359 252h7v1h-7zM395 249h1v4h-1zM446 252h8v1h-8zM291 253h1v1h-1zM309 248h1v6h-1zM317 253h1v1h-1zM403 253h1v1h-1zM416 251h1v3h-1zM423 250h1v4h-1zM446 253h1v1h-1zM231 254h1v1h-1zM238 253h1v2h-1zM241 254h1v1h-1zM249 253h1v2h-1zM275 253h1v2h-1zM282 253h1v2h-1zM310 254h1v1h-1zM316 254h1v1h-1zM354 253h1v2h-1zM358 253h1v2h-1zM365 253h1v2h-1zM396 253h1v2h-1zM402 254h1v1h-1zM417 254h1v1h-1zM422 254h2v1h-2zM447 254h1v1h-1zM453 254h1v1h-1zM221 251h1v5h-1zM232 255h1v1h-1zM237 255h1v1h-1zM242 255h2v1h-2zM247 255h2v1h-2zM292 254h1v2h-1zM311 255h1v1h-1zM315 255h1v1h-1zM320 245h1v11h-1zM329 251h1v5h-1zM377 251h1v5h-1zM397 255h1v1h-1zM401 255h1v1h-1zM418 255h1v1h-1zM421 255h1v1h-1zM448 255h1v1h-1zM452 255h1v1h-1zM461 255h2v1h-2zM209 251h1v6h-1zM217 251h1v6h-1zM221 256h8v1h-8zM233 256h4v1h-4zM244 256h3v1h-3zM252 245h1v12h-1zM265 252h1v5h-1zM274 255h1v2h-1zM283 255h1v2h-1zM286 251h1v6h-1zM293 256h1v1h-1zM299 246h1v11h-1zM305 245h1v12h-1zM312 256h3v1h-3zM320 256h8v1h-8zM329 256h18v1h-18zM348 251h1v6h-1zM355 255h1v2h-1zM357 255h1v2h-1zM366 255h1v2h-1zM371 246h1v11h-1zM377 256h8v1h-8zM398 256h3v1h-3zM407 251h1v6h-1zM413 250h1v7h-1zM419 256h2v1h-2zM423 255h1v2h-1zM427 251h1v6h-1zM433 250h1v7h-1zM437 251h1v6h-1zM443 250h1v7h-1zM449 256h3v1h-3zM456 245h1v12h-1zM461 256h1v1h-1zM474 251h1v6h-1zM482 251h1v6h-1zM486 245h1v12h-1z"/>
<path id="ylabels1" aria-label="1000 100 10 1" d="M46 263h2v1h-2zM53 263h4v1h-4zM61 263h4v1h-4zM69 263h5v1h-5zM44 264h2v1h-2zM69 264h1v1h-1zM65 264h1v2h-1zM68 265h1v4h-1zM66 266h1v4h-1zM52 264h1v7h-1zM57 264h1v7h-1zM60 264h1v7h-1zM65 270h1v1h-1zM69 269h1v2h-1zM74 264h1v7h-1zM47 264h1v8h-1zM53 271h4v1h-4zM61 271h4v1h-4zM69 271h5v1h-5zM55 315h1v1h-1zM61 315h5v1h-5zM70 315h4v1h-4zM54 316h2v1h-2zM73 316h1v1h-1zM53 317h1v1h-1zM69 316h1v2h-1zM65 316h1v3h-1zM68 318h1v3h-1zM66 319h1v3h-1zM60 316h1v7h-1zM69 321h1v2h-1zM61 323h1v1h-1zM65 322h1v2h-1zM70 323h1v1h-1zM74 317h1v7h-1zM55 317h1v8h-1zM61 324h5v1h-5zM70 324h4v1h-4zM63 371h1v1h-1zM69 371h5v1h-5zM62 372h2v1h-2zM61 373h1v1h-1zM73 372h1v3h-1zM74 375h1v3h-1zM68 372h1v7h-1zM69 379h1v1h-1zM73 378h1v2h-1zM63 373h1v8h-1zM69 380h5v1h-5zM72 422h1v1h-1zM71 423h2v1h-2zM70 424h1v1h-1zM72 424h1v8h-1z"/>
<path id="ytitle1" aria-label="Counts/sec" d="M25 310h1v1h-1zM29 310h1v1h-1zM24 311h1v4h-1zM30 311h1v4h-1zM25 315h5v1h-5zM24 318h4v1h-4zM29 318h2v1h-2zM24 319h1v3h-1zM27 319h1v3h-1zM30 319h1v3h-1zM25 322h1v1h-1zM27 322h3v1h-3zM26 323h2v1h-2zM25 325h1v1h-1zM28 325h2v1h-2zM27 326h1v3h-1zM24 326h1v4h-1zM26 329h2v1h-2zM30 326h1v4h-1zM25 330h1v1h-1zM29 330h1v1h-1zM19 332h1v1h-1zM20 333h2v1h-2zM22 334h2v1h-2zM24 335h2v1h-2zM26 336h2v1h-2zM28 337h2v1h-2zM30 338h2v1h-2zM32 339h2v1h-2zM24 342h2v1h-2zM27 342h4v1h-4zM24 343h1v3h-1zM27 343h1v3h-1zM30 343h1v3h-1zM24 346h3v1h-3zM29 346h2v1h-2zM24 349h1v1h-1zM30 348h1v2h-1zM21 350h10v1h-10zM24 351h1v2h-1zM25 354h6v1h-6zM24 355h1v3h-1zM24 358h2v1h-2zM24 359h7v1h-7zM24 362h7v1h-7zM30 363h1v3h-1zM29 366h2v1h-2zM24 367h5v1h-5zM25 370h5v1h-5zM24 371h1v4h-1zM30 371h1v4h-1zM25 375h5v1h-5zM22 378h2v1h-2zM28 378h2v1h-2zM21 379h1v4h-1zM30 379h1v4h-1zM22 383h1v1h-1zM29 383h1v1h-1zM23 384h6v1h-6z"/>
<path id="xlabels1" aria-label="13:00 13:15 13:30 13:45 14:00 14:15 14:30" d="M80 440h1v1h-1zM86 440h6v1h-6zM99 440h5v1h-5zM108 440h4v1h-4zM161 440h1v1h-1zM167 440h5v1h-5zM182 440h1v1h-1zM188 440h5v1h-5zM241 440h1v1h-1zM247 440h6v1h-6zM260 440h5v1h-5zM269 440h4v1h-4zM321 440h2v1h-2zM328 440h5v1h-5zM343 440h1v1h-1zM349 440h5v1h-5zM402 440h1v1h-1zM411 440h1v1h-1zM421 440h4v1h-4zM429 440h5v1h-5zM482 440h1v1h-1zM492 440h1v1h-1zM503 440h1v1h-1zM509 440h6v1h-6zM563 440h1v1h-1zM572 440h1v1h-1zM581 440h6v1h-6zM590 440h4v1h-4zM79 441h2v1h-2zM90 441h1v1h-1zM103 441h1v1h-1zM111 441h1v1h-1zM160 441h2v1h-2zM181 441h2v1h-2zM188 441h1v1h-1zM240 441h2v1h-2zM251 441h1v1h-1zM272 441h1v1h-1zM349 441h1v1h-1zM401 441h2v1h-2zM424 441h1v1h-1zM433 441h1v1h-1zM481 441h2v1h-2zM491 441h2v1h-2zM502 441h2v1h-2zM562 441h2v1h-2zM585 441h1v1h-1zM593 441h1v1h-1zM78 442h1v1h-1zM89 442h1v1h-1zM107 441h1v2h-1zM159 442h1v1h-1zM170 441h1v2h-1zM180 442h1v1h-1zM187 442h1v1h-1zM239 442h1v1h-1zM250 442h1v1h-1zM263 441h1v2h-1zM268 441h1v2h-1zM320 441h1v2h-1zM331 441h1v2h-1zM342 441h2v2h-2zM348 442h1v1h-1zM400 442h1v1h-1zM410 441h2v2h-2zM480 442h1v1h-1zM490 442h1v1h-1zM501 442h1v1h-1zM509 441h1v2h-1zM561 442h1v1h-1zM571 441h2v2h-2zM584 442h1v1h-1zM88 443h3v1h-3zM94 443h2v1h-2zM169 443h2v1h-2zM175 443h2v1h-2zM187 443h5v1h-5zM249 443h2v1h-2zM255 443h2v1h-2zM262 443h2v1h-2zM330 443h2v1h-2zM335 443h2v1h-2zM341 443h1v1h-1zM348 443h5v1h-5zM409 443h1v1h-1zM416 443h2v1h-2zM425 442h1v2h-1zM496 443h2v1h-2zM509 443h5v1h-5zM570 443h1v1h-1zM577 443h2v1h-2zM583 443h3v1h-3zM594 442h1v2h-1zM95 444h1v1h-1zM171 444h1v1h-1zM175 444h1v1h-1zM187 444h1v1h-1zM192 444h1v1h-1zM251 444h2v1h-2zM256 444h1v1h-1zM264 444h1v1h-1zM332 444h1v1h-1zM336 444h1v1h-1zM348 444h1v1h-1zM353 444h1v1h-1zM416 444h1v1h-1zM489 443h1v2h-1zM497 444h1v1h-1zM509 444h1v1h-1zM577 444h1v1h-1zM106 443h1v3h-1zM267 443h1v3h-1zM340 444h1v2h-1zM343 443h1v3h-1zM408 444h1v2h-1zM411 443h1v3h-1zM488 445h1v1h-1zM492 442h1v4h-1zM569 444h1v2h-1zM572 443h1v3h-1zM172 445h1v2h-1zM193 445h1v2h-1zM265 445h1v2h-1zM333 445h1v2h-1zM339 446h8v1h-8zM354 445h1v2h-1zM407 446h7v1h-7zM426 444h1v3h-1zM487 446h8v1h-8zM568 446h7v1h-7zM595 444h1v3h-1zM85 447h1v1h-1zM98 441h1v7h-1zM107 446h1v2h-1zM246 447h1v1h-1zM268 446h1v2h-1zM420 441h1v7h-1zM428 441h1v7h-1zM508 447h1v1h-1zM580 447h1v1h-1zM589 441h1v7h-1zM86 448h1v1h-1zM91 444h1v5h-1zM95 448h1v1h-1zM99 448h1v1h-1zM104 442h1v7h-1zM108 448h1v1h-1zM112 442h1v7h-1zM166 447h1v2h-1zM171 447h1v2h-1zM175 448h1v1h-1zM187 447h1v2h-1zM192 447h1v2h-1zM247 448h1v1h-1zM252 445h1v4h-1zM256 448h1v1h-1zM259 447h1v2h-1zM264 447h1v2h-1zM269 448h1v1h-1zM273 442h1v7h-1zM327 447h1v2h-1zM332 447h1v2h-1zM336 448h1v1h-1zM348 447h1v2h-1zM353 447h1v2h-1zM416 448h1v1h-1zM421 448h1v1h-1zM425 447h1v2h-1zM429 448h1v1h-1zM434 442h1v7h-1zM497 448h1v1h-1zM509 448h1v1h-1zM514 444h1v5h-1zM577 448h1v1h-1zM581 448h1v1h-1zM586 444h1v5h-1zM590 448h1v1h-1zM594 447h1v2h-1zM80 442h1v8h-1zM86 449h5v1h-5zM94 449h2v1h-2zM99 449h5v1h-5zM108 449h4v1h-4zM161 442h1v8h-1zM167 449h4v1h-4zM175 449h2v1h-2zM182 442h1v8h-1zM188 449h4v1h-4zM241 442h1v8h-1zM247 449h5v1h-5zM255 449h2v1h-2zM260 449h4v1h-4zM269 449h4v1h-4zM322 441h1v9h-1zM328 449h4v1h-4zM335 449h2v1h-2zM343 447h1v3h-1zM349 449h4v1h-4zM402 442h1v8h-1zM411 447h1v3h-1zM416 449h2v1h-2zM421 449h4v1h-4zM429 449h5v1h-5zM482 442h1v8h-1zM492 447h1v3h-1zM496 449h2v1h-2zM503 442h1v8h-1zM509 449h5v1h-5zM563 442h1v8h-1zM572 447h1v3h-1zM577 449h2v1h-2zM581 449h5v1h-5zM590 449h4v1h-4z"/>
<path id="xtitle1" aria-label="Start Time (23-Feb-10 12:57:10)" d="M312 454h1v1h-1zM459 454h1v1h-1zM460 455h1v1h-1zM234 456h5v1h-5zM271 456h7v1h-7zM279 456h1v1h-1zM311 455h1v2h-1zM316 456h4v1h-4zM324 456h6v1h-6zM343 456h6v1h-6zM380 456h1v1h-1zM386 456h5v1h-5zM403 456h2v1h-2zM410 456h4v1h-4zM422 456h5v1h-5zM430 456h7v1h-7zM445 456h2v1h-2zM452 456h4v1h-4zM461 456h1v1h-1zM239 457h1v1h-1zM316 457h1v1h-1zM328 457h1v1h-1zM379 457h2v1h-2zM390 457h1v1h-1zM402 457h1v1h-1zM455 457h1v1h-1zM233 457h1v2h-1zM242 456h1v3h-1zM261 456h1v3h-1zM310 457h1v2h-1zM315 458h1v1h-1zM327 458h1v1h-1zM358 456h1v3h-1zM378 458h1v1h-1zM401 458h1v1h-1zM409 457h1v2h-1zM422 457h1v2h-1zM435 457h1v2h-1zM444 457h1v2h-1zM233 459h2v1h-2zM241 459h4v1h-4zM248 459h5v1h-5zM255 459h4v1h-4zM260 459h4v1h-4zM282 459h1v1h-1zM284 459h8v1h-8zM296 459h4v1h-4zM320 457h1v3h-1zM326 459h2v1h-2zM343 457h1v3h-1zM351 459h4v1h-4zM358 459h5v1h-5zM414 457h1v3h-1zM417 459h2v1h-2zM422 459h5v1h-5zM456 458h1v2h-1zM235 460h1v1h-1zM282 460h2v1h-2zM287 460h2v1h-2zM299 460h1v1h-1zM328 460h2v1h-2zM343 460h4v1h-4zM351 460h1v1h-1zM418 460h1v1h-1zM422 460h1v1h-1zM434 459h1v2h-1zM439 459h1v2h-1zM236 461h3v1h-3zM295 460h1v2h-1zM300 461h1v1h-1zM319 460h1v2h-1zM332 461h9v1h-9zM350 461h1v1h-1zM355 460h1v2h-1zM366 461h9v1h-9zM413 460h1v2h-1zM295 462h6v1h-6zM309 459h1v4h-1zM318 462h1v1h-1zM350 462h6v1h-6zM412 462h1v1h-1zM433 461h1v2h-1zM457 460h1v3h-1zM242 460h1v4h-1zM317 463h1v1h-1zM323 463h1v1h-1zM385 457h1v7h-1zM411 463h1v1h-1zM421 463h1v1h-1zM451 457h1v7h-1zM233 464h1v1h-1zM239 462h1v3h-1zM243 464h1v1h-1zM247 460h1v5h-1zM252 460h1v5h-1zM261 460h1v5h-1zM295 463h1v2h-1zM300 464h1v1h-1zM310 463h1v2h-1zM316 464h1v1h-1zM324 464h1v1h-1zM329 461h1v4h-1zM351 463h1v2h-1zM355 464h1v1h-1zM358 460h1v5h-1zM363 460h1v5h-1zM386 464h1v1h-1zM391 458h1v7h-1zM410 464h1v1h-1zM418 464h1v1h-1zM422 464h1v1h-1zM427 460h1v5h-1zM432 463h1v2h-1zM452 464h1v1h-1zM456 463h1v2h-1zM462 457h1v8h-1zM234 465h5v1h-5zM243 465h2v1h-2zM248 465h5v1h-5zM255 460h1v6h-1zM261 465h3v1h-3zM274 457h1v9h-1zM279 459h1v7h-1zM282 461h1v5h-1zM287 461h1v5h-1zM292 460h1v6h-1zM296 465h4v1h-4zM315 465h7v1h-7zM324 465h5v1h-5zM343 461h1v5h-1zM351 465h4v1h-4zM358 465h5v1h-5zM380 458h1v8h-1zM386 465h5v1h-5zM404 457h1v9h-1zM409 465h7v1h-7zM417 465h2v1h-2zM422 465h5v1h-5zM431 465h1v1h-1zM439 464h1v2h-1zM446 457h1v9h-1zM452 465h4v1h-4zM461 465h1v2h-1zM311 465h1v3h-1zM460 467h1v1h-1zM312 468h1v1h-1zM459 468h1v1h-1z"/>
<path id="stamp" aria-label="15-May-2010 19:43" d="M553 469h1v1h-1zM557 469h3v1h-3zM591 469h3v1h-3zM596 469h3v1h-3zM602 469h1v1h-1zM606 469h3v1h-3zM616 469h1v1h-1zM620 469h3v1h-3zM630 469h1v1h-1zM633 469h4v1h-4zM552 470h2v1h-2zM556 470h1v1h-1zM568 469h1v2h-1zM572 469h1v2h-1zM590 470h1v1h-1zM598 470h1v1h-1zM601 470h2v1h-2zM615 470h2v1h-2zM629 470h2v1h-2zM635 470h1v1h-1zM556 471h4v1h-4zM575 471h3v1h-3zM582 471h1v1h-1zM593 470h1v2h-1zM620 470h1v2h-1zM623 470h1v2h-1zM625 471h1v1h-1zM634 471h3v1h-3zM559 472h8v1h-8zM568 471h2v2h-2zM571 471h2v2h-2zM579 471h1v2h-1zM581 472h1v1h-1zM583 472h6v1h-6zM592 472h1v1h-1zM599 471h1v2h-1zM620 472h4v1h-4zM628 471h1v2h-1zM630 471h1v2h-1zM556 473h1v1h-1zM560 473h1v1h-1zM574 472h1v2h-1zM577 472h1v2h-1zM580 473h2v1h-2zM591 473h1v1h-1zM595 470h1v4h-1zM598 473h1v1h-1zM605 470h1v4h-1zM609 470h1v4h-1zM623 473h1v1h-1zM627 473h6v1h-6zM636 472h1v2h-1zM553 471h1v4h-1zM556 474h4v1h-4zM568 473h1v2h-1zM570 473h1v2h-1zM572 473h1v2h-1zM574 474h4v1h-4zM590 474h4v1h-4zM596 474h3v1h-3zM602 471h1v4h-1zM606 474h3v1h-3zM616 471h1v4h-1zM620 474h3v1h-3zM625 474h1v1h-1zM630 474h1v1h-1zM633 474h4v1h-4zM580 474h1v2h-1zM578 476h2v1h-2z"/>
</g>
</svg>
<div class="sr">HESSI PARTICLE_RATE Channel: LO. HESSI PARTICLE_RATE Channel: HI. Counts/sec. Start Time (23-Feb-10 12:57:10). 15-May-2010 19:43</div>
</body></html>
